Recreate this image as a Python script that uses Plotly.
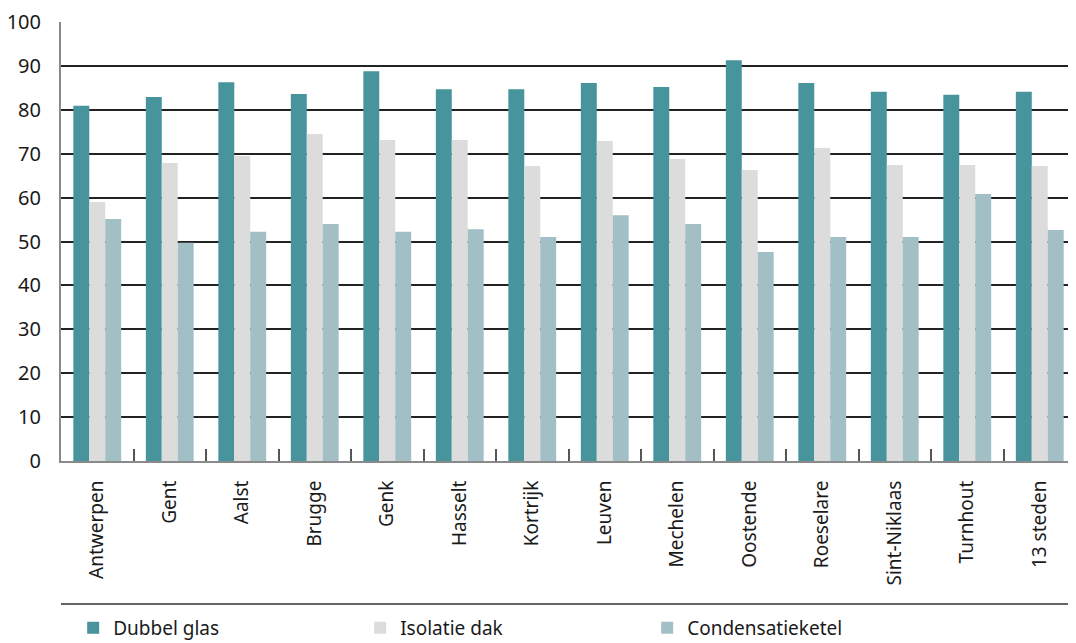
import plotly.graph_objects as go

steden = ["Antwerpen", "Gent", "Aalst", "Brugge", "Genk", "Hasselt", "Kortrijk",
          "Leuven", "Mechelen", "Oostende", "Roeselare", "Sint-Niklaas", "Turnhout", "13 steden"]
dubbel_glas = [80.9, 82.9, 86.3, 83.6, 88.8, 84.7, 84.7, 86.1, 85.2, 91.3, 86.1, 84.1, 83.4, 84.1]
isolatie_dak = [59.0, 67.9, 69.5, 74.5, 73.1, 73.1, 67.2, 72.9, 68.8, 66.3, 71.3, 67.4, 67.4, 67.2]
condensatieketel = [55.1, 49.7, 52.2, 54.0, 52.2, 52.8, 51.0, 56.0, 54.0, 47.6, 51.0, 51.0, 60.8, 52.6]
y_ticks = [0, 10, 20, 30, 40, 50, 60, 70, 80, 90, 100]

FONT = "Noto Sans"
fig = go.Figure()
for name, vals, col in [("Dubbel glas", dubbel_glas, "#47949D"),
                        ("Isolatie dak", isolatie_dak, "#DCDCDC"),
                        ("Condensatieketel", condensatieketel, "#A2BFC6")]:
    fig.add_trace(go.Bar(x=steden, y=vals, name=name, marker=dict(color=col, line=dict(width=0))))

# the page body adds an 8px margin, so the figure is sized to fit the window
fig.update_layout(
    width=1068, height=635,
    margin=dict(l=53, r=0, t=14, b=182, autoexpand=False),
    barmode="group", bargap=0.34, bargroupgap=0,
    plot_bgcolor="white", paper_bgcolor="white",
    font=dict(family=FONT, size=19, color="#1a1a1a"),
    showlegend=True,
    legend=dict(orientation="h", x=0.012, xanchor="left", y=-0.337, yanchor="top",
                entrywidth=242, entrywidthmode="pixels",
                font=dict(family=FONT, size=19, color="#1a1a1a"), traceorder="normal"),
    shapes=[dict(type="line", xref="paper", yref="paper", x0=0, x1=1, y0=-0.3257, y1=-0.3257,
                 line=dict(color="#666666", width=2))],
)
fig.update_yaxes(range=[0, 100], tickvals=y_ticks, showgrid=True, gridcolor="#222222", gridwidth=1.8,
                 showline=True, linecolor="#8a8a8a", linewidth=2, ticks="", zeroline=False,
                 ticklabelstandoff=14, tickfont=dict(size=20), automargin=False)
fig.update_xaxes(showline=True, linecolor="#8a8a8a", linewidth=2, ticks="inside", tickson="boundaries",
                 ticklen=12, tickcolor="#555555", tickwidth=1.5, tickangle=-90,
                 tickfont=dict(size=19), ticklabelstandoff=10, automargin=False)

fig.write_html("out.html")
